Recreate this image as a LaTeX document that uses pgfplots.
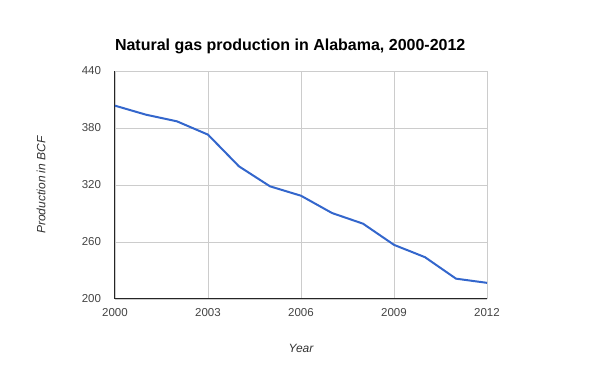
\documentclass[border=0pt]{standalone}
\usepackage{pgfplots}
\pgfplotsset{compat=1.18}
\usepackage{fontspec}
\setmainfont{Liberation Sans}
\definecolor{gblue}{HTML}{3366CC}
\definecolor{ggrid}{HTML}{CCCCCC}
\definecolor{gtick}{HTML}{444444}
\begin{document}
\begin{tikzpicture}
\begin{axis}[
  at={(0pt,0pt)}, anchor=south west,
  scale only axis,
  width=372pt, height=228pt,
  xmin=2000, xmax=2012, ymin=200, ymax=440,
  xtick={2000,2003,2006,2009,2012},
  ytick={200,260,320,380,440},
  /pgf/number format/1000 sep={},
  /pgf/number format/assume math mode=true,
  axis x line*=bottom, axis y line*=left,
  axis line style={draw=black!85, line width=1pt, -},
  major tick length=0pt,
  grid=major,
  major grid style={draw=ggrid, line width=0.8pt},
  ticklabel style={font=\fontsize{11.5}{14}\selectfont, text=gtick},
  xticklabel style={yshift=-5.5pt},
  yticklabel style={xshift=-10.5pt},
  title={\textbf{Natural gas production in Alabama, 2000-2012}},
  title style={at={(axis description cs:0,1)}, anchor=base west, xshift=-3.5pt, yshift=14pt, font=\fontsize{16}{19}\selectfont},
  xlabel={\itshape Year},
  xlabel style={at={(axis description cs:0.5,0)}, anchor=center, yshift=-49pt, font=\fontsize{12}{14}\selectfont, text=black!80},
  ylabel={\itshape Production in BCF},
  ylabel style={at={(axis description cs:0,0.5)}, anchor=center, yshift=74pt, font=\fontsize{12}{14}\selectfont, text=black!80},
]
\addplot[gblue, line width=2pt, line join=round] coordinates {
(2000,403.5) (2001,394) (2002,387) (2003,373) (2004,339.6) (2005,318.6)
(2006,308.7) (2007,290.5) (2008,279.3) (2009,257) (2010,244) (2011,221.4) (2012,217)
};
\end{axis}
\path[use as bounding box] (-115pt,-72pt) rectangle (485pt,299pt);
\end{tikzpicture}
\end{document}
